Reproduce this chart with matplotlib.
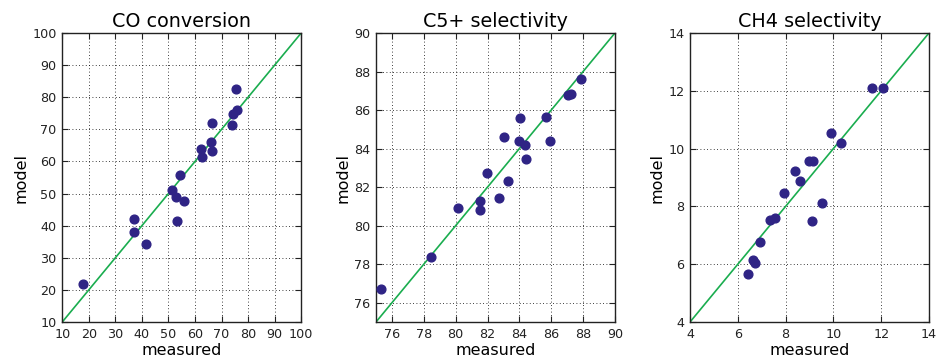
import matplotlib
matplotlib.use("Agg")
import matplotlib.pyplot as plt

# CO conversion
co_meas = [17.7, 37.2, 36.9, 41.4, 51.3, 53.0, 54.4, 55.8, 53.4, 62.3, 62.5,
           66.0, 66.3, 66.3, 73.8, 74.5, 75.3, 75.8]
co_model = [21.9, 42.1, 37.9, 34.3, 51.25, 48.85, 55.7, 47.7, 41.5, 63.75, 61.25,
            66.1, 63.3, 72.1, 71.4, 74.8, 82.5, 76.0]

# C5+ selectivity
c5_meas = [75.3, 78.47, 80.14, 81.5, 81.56, 81.98, 82.73, 83.03, 83.27, 84.04,
           84.0, 84.36, 84.43, 85.67, 85.9, 87.06, 87.27, 87.86]
c5_model = [76.7, 78.4, 80.94, 81.27, 80.82, 82.75, 81.43, 84.6, 82.33, 85.6,
            84.37, 84.2, 83.44, 85.65, 84.37, 86.8, 86.85, 87.59]

# CH4 selectivity
ch4_meas = [6.41, 6.62, 6.70, 6.91, 7.33, 7.57, 7.92, 8.38, 8.59, 8.97, 9.14,
            9.11, 9.53, 9.88, 10.30, 11.6, 12.08]
ch4_model = [5.66, 6.14, 6.05, 6.77, 7.54, 7.61, 8.48, 9.22, 8.88, 9.56, 9.56,
             7.48, 8.12, 10.53, 10.18, 12.08, 12.08]

titles = ["CO conversion", "C5+ selectivity", "CH4 selectivity"]
limits = [(10, 100), (75, 90), (4, 14)]
xticks = [list(range(10, 101, 10)), list(range(76, 91, 2)), list(range(4, 15, 2))]
yticks = [list(range(10, 101, 10)), list(range(76, 91, 2)), list(range(4, 15, 2))]

fig = plt.figure(figsize=(9.36, 3.61), dpi=100)
lefts = [0.0665, 0.4017, 0.7372]
data = [(co_meas, co_model), (c5_meas, c5_model), (ch4_meas, ch4_model)]

for i in range(3):
    ax = fig.add_axes([lefts[i], 0.108, 0.2553, 0.8006])
    lo, hi = limits[i]
    # parity line
    ax.plot([lo, hi], [lo, hi], color="#1aad4f", lw=1.2, zorder=2)
    x, y = data[i]
    ax.plot(x, y, "o", color="#2f2485", mec="#2f2485", ms=6.3, zorder=3)
    ax.set_xlim(lo, hi)
    ax.set_ylim(lo, hi)
    ax.set_xticks(xticks[i])
    ax.set_yticks(yticks[i])
    ax.grid(True, color="black", linestyle=(0, (1, 3)), lw=0.6)
    ax.tick_params(direction="in", top=True, right=True, labelsize=9.2,
                   length=4, width=0.8, colors="#222222", pad=4)
    for s in ax.spines.values():
        s.set_linewidth(1.0)
        s.set_color("#222222")
    ax.set_title(titles[i], fontsize=13.8, pad=4)
    ax.set_xlabel("measured", fontsize=11.5, labelpad=2)
    ax.set_ylabel("model", fontsize=11.5, labelpad=3)

fig.savefig("out.png", dpi=100)
